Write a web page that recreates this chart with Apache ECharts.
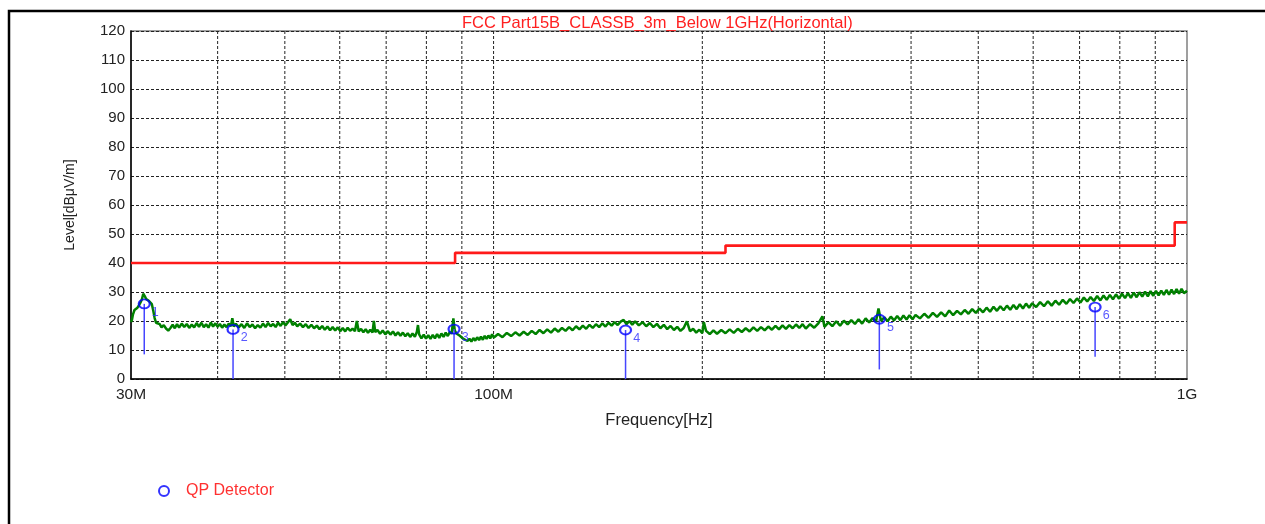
<!DOCTYPE html>
<html><head><meta charset="utf-8">
<script src="https://cdn.jsdelivr.net/npm/echarts@6/dist/echarts.min.js"></script>
<style>html,body{margin:0;padding:0;background:#fff}#c{width:1265px;height:524px}</style>
</head><body><div id="c"></div>
<script>
// ---------- data ----------
const chartTitle = 'FCC Part15B_CLASSB_3m_Below 1GHz(Horizontal)';
const xAxisName = 'Frequency[Hz]';
const yAxisName = 'Level[dBμV/m]';
const legendName = 'QP Detector';
const xTickLabels = {30: '30M', 100: '100M', 1000: '1G'};
const xRange = [30, 1000];          // MHz
const yRange = [0, 120];
const yStep = 10;
const gridFreqs = [40, 50, 60, 70, 80, 90, 100, 200, 300, 400, 500, 600, 700, 800, 900];

// limit line (step)
const limitFreq = [30, 88, 216, 960, 1000];
const limitLevel = [40, 43.5, 46, 54, 54];

// measured trace [MHz, dBuV/m]
const traceData = [
[30.0,19.6],[30.1,20.5],[30.2,22.3],[30.35,23.8],[30.5,24.3],[30.65,24.6],[30.8,25.4],[30.95,26.3],[31.1,27.4],[31.25,29.4],
[31.4,28.6],[31.55,27.6],[31.7,27.1],[31.85,26.9],[32.0,26.6],[32.15,25.8],[32.3,23.6],[32.45,21.0],[32.6,19.4],[32.8,19.2],
[33.0,18.9],[33.2,17.8],[33.45,18.6],[33.7,17.4],[33.95,16.7],[34.2,17.6],[34.45,18.7],[34.7,17.5],[34.95,18.9],[35.2,17.7],
[35.5,19.1],[35.8,17.9],[36.1,19.0],[36.4,17.6],[36.7,18.8],[37.0,17.8],[37.3,19.3],[37.6,18.0],[37.9,19.4],[38.2,17.9],
[38.5,18.9],[38.8,17.7],[39.1,19.5],[39.4,18.1],[39.7,19.2],[40.0,18.0],[40.3,19.0],[40.6,17.7],[40.9,18.8],[41.2,17.9],
[41.5,19.1],[41.8,18.2],[42.0,21.0],[42.2,18.1],
[42.5,19.0],[42.9,17.8],[43.3,18.9],[43.7,17.6],[44.1,19.2],[44.5,17.9],[44.9,18.8],[45.3,17.5],[45.7,18.6],[46.1,17.7],
[46.5,19.1],[46.9,17.9],[47.3,19.3],[47.7,18.2],[48.1,19.0],[48.5,17.9],[48.9,19.4],[49.3,18.3],[49.7,19.6],[50.1,18.5],
[50.5,19.5],[50.9,20.6],[51.3,18.6],[51.7,19.4],[52.1,18.2],[52.6,19.1],[53.1,17.9],[53.6,18.9],[54.1,17.6],[54.6,18.7],
[55.1,17.5],[55.6,18.4],[56.1,17.2],[56.6,18.3],[57.1,17.0],[57.6,18.1],[58.1,16.8],[58.6,17.9],[59.1,16.7],[59.6,17.8],
[60.1,16.5],[60.6,17.6],[61.1,16.4],[61.6,17.7],[62.1,16.6],[62.6,17.4],[63.1,16.5],[63.5,20.0],[63.9,16.4],[64.4,17.3],
[64.9,16.1],[65.4,17.2],[65.9,15.9],[66.4,17.0],[66.9,16.0],[67.2,20.0],[67.5,16.2],
[68.0,16.9],[68.6,15.6],[69.2,16.7],[69.8,15.4],[70.4,16.5],[71.0,15.3],[71.6,16.4],[72.2,15.0],[72.8,16.1],[73.4,14.9],
[74.0,16.0],[74.6,14.7],[75.2,15.8],[75.8,14.5],[76.4,15.7],[77.0,14.6],[77.5,16.2],[77.8,18.6],[78.1,15.4],
[78.7,14.0],[79.3,15.3],[79.9,13.9],[80.5,15.1],[81.1,13.8],[81.7,15.2],[82.3,14.0],[82.9,15.5],[83.5,14.2],[84.1,15.7],
[84.7,14.5],[85.3,16.0],[85.9,14.8],[86.5,16.3],[87.0,15.6],[87.5,20.9],[87.9,16.8],[88.4,15.7],[88.9,16.0],[89.4,14.9],
[89.9,15.2],[90.5,13.8],[91.1,14.3],[91.7,13.1],[92.3,13.9],[92.9,12.9],[93.5,14.1],[94.1,13.2],[94.7,14.4],[95.3,13.4],
[95.9,14.6],[96.5,13.5],[97.1,14.9],[97.7,13.8],[98.3,15.0],[98.9,14.0],[99.5,15.4],[100.1,14.3],
[101.5,15.5],[103,14.4],[104.5,15.9],[106,14.8],[107.5,16.1],[109,15.0],[110.5,16.3],[112,15.2],[113.5,16.6],[115,15.5],
[116.5,16.9],[118,15.8],[119.5,17.1],[121,16.0],[122.5,17.4],[124,16.3],[125.5,17.6],[127,16.6],[128.5,17.9],[130,16.8],
[131.5,18.2],[133,17.1],[134.5,18.4],[136,17.3],[137.5,18.7],[139,17.6],[140.5,18.9],[142,17.9],[143.5,19.2],[145,18.1],
[146.5,19.4],[148,18.4],[149.5,19.6],[151,18.6],[152.5,19.8],[154,20.4],[155.5,18.9],[157,20.0],
[158.5,18.7],[160,19.9],[162,18.5],[164,19.6],[166,18.2],[168,19.3],[170,17.9],[172,19.0],[174,17.5],[176,18.7],
[178,17.2],[180,18.3],[182,16.9],[184,18.0],[186,16.6],[188,17.6],[190,19.9],[192,16.5],[194,17.3],[196,16.0],
[198,17.0],[200,15.8],[201,19.6],[202.5,16.6],[205,15.5],
[207.5,16.8],[210,15.6],[213,16.9],[216,15.8],[219,17.1],[222,15.9],[225,17.3],[228,16.2],[231,17.5],[234,16.4],
[237,17.8],[240,16.6],[243,17.9],[246,16.8],[249,18.1],[252,17.0],[255,18.3],[258,17.1],[261,18.5],[264,17.3],
[267,18.6],[270,17.5],[273,18.8],[276,17.6],[279,18.9],
[282,17.4],[286,18.9],[290,17.7],[294,19.2],[298,21.6],[300,18.0],[304,19.5],[308,18.2],[312,19.9],[316,18.4],
[320,20.1],[324,18.8],[328,20.3],[332,19.0],[336,20.6],[340,19.1],[344,20.9],[348,19.5],[352,21.0],[356,19.8],
[359,24.3],[362,20.0],[366,21.3],[370,19.9],[374,21.5],[378,20.2],[382,21.7],[386,20.3],[390,21.9],[394,20.5],
[398,22.0],[402,20.6],[406,22.1],[412,20.9],[418,22.5],[424,21.1],[430,22.8],[436,21.4],[442,23.0],[448,21.6],
[454,23.6],[460,22.0],[466,23.5],[472,22.3],[478,23.8],[484,22.5],[490,24.1],[496,22.8],[502,24.3],[508,23.0],
[514,24.6],[520,23.2],[526,24.9],[532,23.5],[538,25.1],[544,23.7],[550,25.3],[556,23.9],[562,25.5],[568,24.1],
[574,25.8],[580,24.3],[586,26.0],[592,24.6],[598,26.1],[606,24.8],[614,26.5],[622,25.1],[630,26.8],[638,25.3],
[646,27.0],[654,25.6],[662,27.3],[670,25.9],[678,27.6],[686,26.2],[694,27.8],[702,26.4],[710,28.1],[718,26.7],
[726,28.3],[734,26.9],[742,28.6],[750,27.1],[758,28.8],[766,27.3],[774,29.0],[782,27.5],[790,29.2],[798,27.7],
[806,29.4],[814,27.9],[822,29.6],[830,28.0],[838,29.8],[846,28.2],[854,29.9],[862,28.4],[870,30.1],[878,28.5],
[886,30.3],[894,28.7],[902,30.4],[910,28.8],[918,30.5],[926,29.0],[934,30.7],[942,29.1],[950,30.8],[958,29.3],
[966,31.0],[974,29.4],[982,31.1],[990,29.6],[1000,30.4]
];

// QP detector markers
const qpFreq = [31.35, 42.1, 87.7, 155, 360, 737];
const qpLevel = [25.9, 17.1, 17.2, 16.9, 20.6, 24.8];
const qpStemEnd = [8.5, 0, 0, 0, 3.3, 7.7];
const qpLabels = ['1', '2', '3', '4', '5', '6'];

// ---------- chart ----------
const FONT = 'Liberation Sans, Arial, sans-serif';
const chart = echarts.init(document.getElementById('c'), null, {renderer: 'canvas'});

const limitData = limitFreq.map((f, i) => [f, limitLevel[i]]);
const qpData = qpFreq.map((f, i) => [f, qpLevel[i]]);
const stemData = qpFreq.map((f, i) => [f, qpLevel[i], qpStemEnd[i]]);

chart.setOption({
  animation: false,
  backgroundColor: '#fff',
  title: {
    text: chartTitle, left: 457, top: 10,
    textStyle: {color: '#ff2020', fontSize: 16.5, fontWeight: 'normal', fontFamily: FONT}
  },
  legend: {
    data: [legendName], left: 153, top: 478, itemWidth: 34, itemHeight: 10,
    textStyle: {color: '#ff3030', fontSize: 16, fontFamily: FONT},
    selectedMode: false
  },
  grid: {left: 131, right: 78, top: 31, bottom: 145, show: true, borderColor: '#808080', borderWidth: 1.5},
  xAxis: {
    type: 'log', logBase: 10, min: xRange[0], max: xRange[1],
    name: xAxisName, nameLocation: 'middle', nameGap: 33,
    nameTextStyle: {color: '#222', fontSize: 16.5, fontFamily: FONT},
    axisLine: {lineStyle: {color: '#000', width: 1.5}},
    axisTick: {show: false},
    splitLine: {show: false},
    axisLabel: {
      color: '#222', fontSize: 15.5, fontFamily: FONT, margin: 8,
      formatter: v => xTickLabels[Math.round(v)] || ''
    }
  },
  yAxis: {
    type: 'value', min: yRange[0], max: yRange[1], interval: yStep,
    name: yAxisName, nameLocation: 'middle', nameGap: 54, nameRotate: 90,
    nameTextStyle: {color: '#222', fontSize: 14, fontFamily: FONT},
    axisLine: {show: true, lineStyle: {color: '#000', width: 1.5}},
    axisTick: {show: false},
    splitLine: {lineStyle: {color: '#222', type: [3, 2], width: 1}},
    axisLabel: {color: '#222', fontSize: 15, fontFamily: FONT, margin: 6}
  },
  series: [
    {
      name: 'grid', type: 'custom', z: 1, silent: true,
      data: gridFreqs.map(f => [f]),
      encode: {x: 0},
      renderItem: (params, api) => {
        const cs = params.coordSys;
        const x = api.coord([api.value(0), yRange[0]])[0];
        return {type: 'line', shape: {x1: x, y1: cs.y, x2: x, y2: cs.y + cs.height},
          style: {stroke: '#222', lineWidth: 1, lineDash: [3, 2]}};
      }
    },
    {
      name: 'Limit', type: 'line', step: 'end', z: 3, data: limitData,
      showSymbol: false, symbol: 'none', silent: true,
      lineStyle: {color: '#ff1a1a', width: 2.6}
    },
    {
      name: 'Trace', type: 'line', z: 4, data: traceData,
      showSymbol: false, symbol: 'none', silent: true,
      lineStyle: {color: '#008000', width: 2.5}
    },
    {
      name: 'stems', type: 'custom', z: 5, silent: true, data: stemData,
      encode: {x: 0, y: [1, 2]},
      renderItem: (params, api) => {
        const p1 = api.coord([api.value(0), api.value(1)]);
        const p2 = api.coord([api.value(0), api.value(2)]);
        return {type: 'line', shape: {x1: p1[0], y1: p1[1], x2: p2[0], y2: p2[1]},
          style: {stroke: '#4646ff', lineWidth: 1.5}};
      }
    },
    {
      name: legendName, type: 'scatter', z: 6, data: qpData,
      symbol: 'circle', symbolSize: [11, 9],
      itemStyle: {color: 'rgba(255,255,255,0)', borderColor: '#0000ff', borderWidth: 2},
      label: {
        show: true, position: 'right', distance: 1, offset: [0, 8.5],
        color: '#3030ff', fontSize: 12.5, fontFamily: FONT,
        formatter: p => qpLabels[p.dataIndex]
      }
    }
  ],
  graphic: [{
    type: 'polyline', silent: true, z: 100,
    shape: {points: [[9, 524], [9, 11], [1265, 11]]},
    style: {stroke: '#000', lineWidth: 2.5, fill: null}
  }]
});
</script>
</body></html>
